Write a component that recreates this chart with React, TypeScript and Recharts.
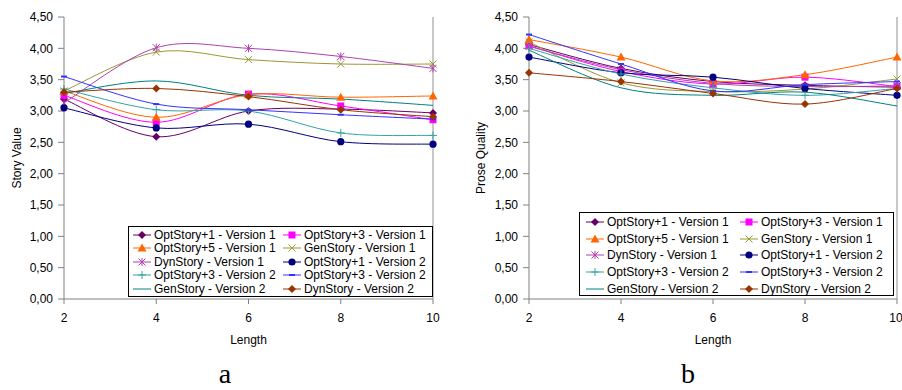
import React from 'react';
import { LineChart, Line, XAxis, YAxis, Legend, ReferenceLine } from 'recharts';

const lengths = [2, 4, 6, 8, 10];
const valueTicks = [0, 0.5, 1, 1.5, 2, 2.5, 3, 3.5, 4, 4.5];

const seriesNames = [
  'OptStory+1 - Version 1',
  'OptStory+3 - Version 1',
  'OptStory+5 - Version 1',
  'GenStory - Version 1',
  'DynStory - Version 1',
  'OptStory+1 - Version 2',
  'OptStory+3 - Version 2',
  'OptStory+3 - Version 2',
  'GenStory - Version 2',
  'DynStory - Version 2',
];
const seriesColors = ['#660066', '#ff00ff', '#ff6600', '#999933', '#b040b0', '#000080', '#33a3a3', '#3333ff', '#008080', '#993300'];
const seriesShapes = ['diamond', 'square', 'triangle', 'x', 'star', 'circle', 'plus', 'dash', 'none', 'diamond'];

// Story Value (chart a)
const storyOpt1V1 = [3.19, 2.59, 3.0, 3.03, 2.97];
const storyOpt3V1 = [3.25, 2.82, 3.27, 3.08, 2.86];
const storyOpt5V1 = [3.32, 2.9, 3.26, 3.22, 3.24];
const storyGenV1 = [3.32, 3.94, 3.82, 3.75, 3.75];
const storyDynV1 = [3.13, 4.01, 4.0, 3.87, 3.68];
const storyOpt1V2 = [3.05, 2.73, 2.79, 2.51, 2.47];
const storyOpt3V2a = [3.35, 3.02, 3.0, 2.65, 2.61];
const storyOpt3V2b = [3.55, 3.11, 3.02, 2.94, 2.87];
const storyGenV2 = [3.28, 3.48, 3.25, 3.19, 3.09];
const storyDynV2 = [3.3, 3.36, 3.23, 3.02, 2.91];

// Prose Quality (chart b)
const proseOpt1V1 = [4.06, 3.68, 3.47, 3.41, 3.38];
const proseOpt3V1 = [4.04, 3.63, 3.43, 3.54, 3.39];
const proseOpt5V1 = [4.14, 3.86, 3.48, 3.58, 3.86];
const proseGenV1 = [4.1, 3.45, 3.31, 3.35, 3.51];
const proseDynV1 = [4.03, 3.66, 3.44, 3.39, 3.4];
const proseOpt1V2 = [3.86, 3.61, 3.54, 3.36, 3.25];
const proseOpt3V2a = [4.0, 3.59, 3.37, 3.25, 3.36];
const proseOpt3V2b = [4.22, 3.75, 3.32, 3.42, 3.47];
const proseGenV2 = [3.97, 3.37, 3.25, 3.3, 3.08];
const proseDynV2 = [3.61, 3.47, 3.28, 3.11, 3.36];

const storyValues = [storyOpt1V1, storyOpt3V1, storyOpt5V1, storyGenV1, storyDynV1, storyOpt1V2, storyOpt3V2a, storyOpt3V2b, storyGenV2, storyDynV2];
const proseValues = [proseOpt1V1, proseOpt3V1, proseOpt5V1, proseGenV1, proseDynV1, proseOpt1V2, proseOpt3V2a, proseOpt3V2b, proseGenV2, proseDynV2];

const FONT = '"Liberation Sans", Arial, sans-serif';
const AXIS = '#808080';

// excel-like smoothing (catmull-rom through the points)
const excelSmooth = (context: any) => {
  let pts: [number, number][] = [];
  return {
    areaStart() {},
    areaEnd() {},
    lineStart() {
      pts = [];
    },
    lineEnd() {
      if (!pts.length) return;
      context.moveTo(pts[0][0], pts[0][1]);
      for (let i = 0; i < pts.length - 1; i++) {
        const p0 = pts[i - 1] || pts[i];
        const p1 = pts[i];
        const p2 = pts[i + 1];
        const p3 = pts[i + 2] || p2;
        context.bezierCurveTo(
          p1[0] + (p2[0] - p0[0]) / 6,
          p1[1] + (p2[1] - p0[1]) / 6,
          p2[0] - (p3[0] - p1[0]) / 6,
          p2[1] - (p3[1] - p1[1]) / 6,
          p2[0],
          p2[1]
        );
      }
    },
    point(x: number, y: number) {
      pts.push([x, y]);
    },
  };
};

function marker(shape: string, color: string, cx: number, cy: number) {
  switch (shape) {
    case 'diamond':
      return <path d={`M${cx},${cy - 4}L${cx + 4},${cy}L${cx},${cy + 4}L${cx - 4},${cy}Z`} fill={color} />;
    case 'square':
      return <rect x={cx - 3.5} y={cy - 3.5} width={7} height={7} fill={color} />;
    case 'triangle':
      return <path d={`M${cx},${cy - 4.5}L${cx + 4.5},${cy + 3.5}L${cx - 4.5},${cy + 3.5}Z`} fill={color} />;
    case 'x':
      return <path d={`M${cx - 3.5},${cy - 3.5}L${cx + 3.5},${cy + 3.5}M${cx - 3.5},${cy + 3.5}L${cx + 3.5},${cy - 3.5}`} stroke={color} strokeWidth={1} />;
    case 'star':
      return (
        <path
          d={`M${cx - 3.5},${cy - 3.5}L${cx + 3.5},${cy + 3.5}M${cx - 3.5},${cy + 3.5}L${cx + 3.5},${cy - 3.5}M${cx},${cy - 4}L${cx},${cy + 4}`}
          stroke={color}
          strokeWidth={1}
        />
      );
    case 'circle':
      return <circle cx={cx} cy={cy} r={3.6} fill={color} />;
    case 'plus':
      return <path d={`M${cx - 4},${cy}L${cx + 4},${cy}M${cx},${cy - 4}L${cx},${cy + 4}`} stroke={color} strokeWidth={1} />;
    case 'dash':
      return <path d={`M${cx - 3},${cy}L${cx + 3},${cy}`} stroke={color} strokeWidth={2} />;
    default:
      return null;
  }
}

const makeDot = (shape: string, color: string) => (p: any) => (
  <g key={`${shape}-${p.index}-${p.cx}`}>{marker(shape, color, p.cx, p.cy)}</g>
);

const AxisTitle = (props: any) => (
  <text
    x={props.tx}
    y={props.ty}
    transform={props.rotate ? `rotate(-90 ${props.tx} ${props.ty})` : undefined}
    textAnchor="middle"
    dy="0.35em"
    fontFamily={FONT}
    fontSize={12}
    fill="#000"
  >
    {props.text}
  </text>
);

type LegendBox = { left: number; top: number; width: number; height: number; col1: number; pad: number; row: number };

const LegendGrid = ({ box }: { box: LegendBox }) => (
  <div
    style={{
      boxSizing: 'border-box',
      width: box.width,
      height: box.height,
      border: '1px solid #000',
      background: '#fff',
      paddingTop: 1,
      display: 'grid',
      gridTemplateColumns: `${box.col1}px 1fr`,
      gridAutoRows: `${box.row}px`,
      fontFamily: FONT,
      fontSize: 12,
      color: '#000',
    }}
  >
    {seriesNames.map((name, i) => (
      <div key={i} style={{ display: 'flex', alignItems: 'center', paddingLeft: i % 2 === 0 ? box.pad : 2, whiteSpace: 'nowrap' }}>
        <svg width={18} height={10} style={{ marginRight: 3, flexShrink: 0 }}>
          <line x1={0} y1={5} x2={18} y2={5} stroke={seriesColors[i]} strokeWidth={1} />
          {marker(seriesShapes[i], seriesColors[i], 9, 5)}
        </svg>
        <span>{name}</span>
      </div>
    ))}
  </div>
);

type ChartProps = {
  values: number[][];
  yTitle: string;
  width: number;
  yAxisWidth: number;
  rightMargin: number;
  yTitleX: number;
  legend: LegendBox;
};

function Panel({ values, yTitle, width, yAxisWidth, rightMargin, yTitleX, legend }: ChartProps) {
  const data = lengths.map((len, i) => {
    const row: Record<string, number> = { len };
    values.forEach((vals, s) => {
      row[`s${s}`] = vals[i];
    });
    return row;
  });
  const plotCenter = yAxisWidth + (width - yAxisWidth - rightMargin) / 2;

  return (
    <LineChart width={width} height={360} data={data} margin={{ top: 17, right: rightMargin, bottom: 0, left: 0 }}>
      <XAxis
        dataKey="len"
        type="number"
        domain={[2, 10]}
        ticks={lengths}
        height={61}
        stroke={AXIS}
        tickSize={5}
        tickMargin={9}
        tick={{ fill: '#000', fontSize: 12, fontFamily: FONT }}
        label={<AxisTitle tx={plotCenter} ty={340} text="Length" />}
      />
      <YAxis
        type="number"
        domain={[0, 4.5]}
        ticks={valueTicks}
        width={yAxisWidth}
        stroke={AXIS}
        tickSize={6}
        tickMargin={5}
        tick={{ fill: '#000', fontSize: 12, fontFamily: FONT }}
        tickFormatter={(v: number) => v.toFixed(2).replace('.', ',')}
        label={<AxisTitle tx={yTitleX} ty={158} text={yTitle} rotate />}
      />
      <ReferenceLine x={10} stroke="#c8c8c8" strokeWidth={2} />
      {values.map((_, s) => (
        <Line
          key={s}
          dataKey={`s${s}`}
          name={seriesNames[s]}
          type={excelSmooth as any}
          stroke={seriesColors[s]}
          strokeWidth={1}
          dot={seriesShapes[s] === 'none' ? false : makeDot(seriesShapes[s], seriesColors[s])}
          activeDot={false}
          isAnimationActive={false}
        />
      ))}
      <Legend
        layout="vertical"
        align="center"
        verticalAlign="middle"
        wrapperStyle={{ left: legend.left, top: legend.top, width: legend.width, height: legend.height }}
        content={() => <LegendGrid box={legend} />}
      />
    </LineChart>
  );
}

const captionStyle: React.CSSProperties = {
  position: 'absolute',
  top: 360,
  transform: 'translateX(-50%)',
  fontFamily: '"Liberation Serif", serif',
  fontSize: 28,
  lineHeight: '28px',
};

export default function App() {
  return (
    <div style={{ position: 'absolute', left: 0, top: 0, width: 902, height: 390, background: '#fff', overflow: 'hidden' }}>
      <div style={{ position: 'absolute', left: 0, top: 0 }}>
        <Panel
          values={storyValues}
          yTitle="Story Value"
          width={450}
          yAxisWidth={64}
          rightMargin={17}
          yTitleX={17}
          legend={{ left: 128, top: 226, width: 305, height: 71, col1: 152, pad: 4, row: 13.5 }}
        />
      </div>
      <div style={{ position: 'absolute', left: 450, top: 0 }}>
        <Panel
          values={proseValues}
          yTitle="Prose Quality"
          width={452}
          yAxisWidth={79}
          rightMargin={5}
          yTitleX={31}
          legend={{ left: 129, top: 212, width: 315, height: 84, col1: 158, pad: 6, row: 16.6 }}
        />
      </div>
      <div style={{ ...captionStyle, left: 225 }}>a</div>
      <div style={{ ...captionStyle, left: 688 }}>b</div>
    </div>
  );
}
